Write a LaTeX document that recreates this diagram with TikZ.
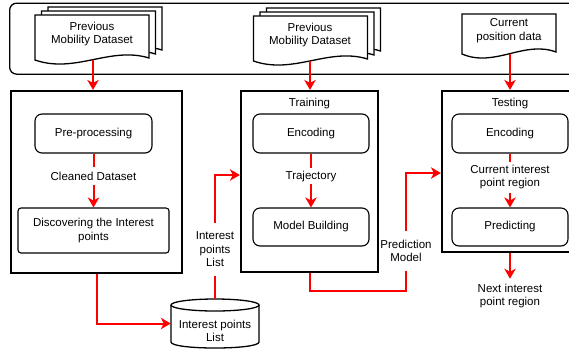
\documentclass[tikz,border=0pt]{standalone}
\usepackage{fontspec}
\setmainfont{Liberation Sans}
\usetikzlibrary{arrows.meta,calc}

% A document sheet with a wavy lower edge: top-left x, top-left y, width, height
\newcommand\docsheet[4]{%
  \draw[sheet] (#1,#2) -- ({#1+#3},#2) -- ({#1+#3},{#2+#4-1})
    .. controls ({#1+0.66*#3},{#2+#4-13}) and ({#1+0.35*#3},{#2+#4+15})
    .. (#1,{#2+#4+1}) -- cycle;}

\begin{document}
\begin{tikzpicture}[x=1pt,y=-1pt,
  txt/.style={font=\fontsize{11.5}{13.5}\selectfont, align=center, inner sep=1pt},
  sheet/.style={draw=black, fill=white, line width=1.3pt, line join=miter},
  bigframe/.style={draw=black, line width=2.2pt, inner sep=0pt},
  stepbox/.style={txt, draw=black, line width=1.1pt, rounded corners=7pt,
                  minimum width=116pt, minimum height=39pt},
  flow/.style={draw=red, line width=2pt,
               -{Stealth[length=10pt,width=11.5pt,inset=3pt]}},
  flowlabel/.style={txt, fill=white}
]
\useasboundingbox (0,0) rectangle (569,349);
\clip (0,0) rectangle (569,349);

% input band
\node[draw=black, line width=1.3pt, rounded corners=7pt, minimum width=580pt,
      minimum height=71pt, anchor=north west] (inputs) at (9,2.5) {};

% previous mobility dataset (training input)
\docsheet{48}{7}{114}{44}
\docsheet{41.5}{11}{114}{44}
\docsheet{35}{15}{114}{44}
\node[txt] (doc1) at (92,34) {Previous\\Mobility Dataset};
\coordinate (doc1out) at (93,60);

% previous mobility dataset (model input)
\docsheet{266.5}{8}{114}{44}
\docsheet{260}{12}{114}{44}
\docsheet{253.5}{16}{114}{44}
\node[txt] (doc2) at (310,35) {Previous\\Mobility Dataset};
\coordinate (doc2out) at (310,61);

% current position
\docsheet{462}{14}{94}{39}
\node[txt] (doc3) at (509,30.5) {Current\\position data};
\coordinate (doc3out) at (510,54);

% processing stages
\node[bigframe, minimum width=171pt, minimum height=182pt] (prep) at (96.5,182) {};
\node[bigframe, minimum width=137pt, minimum height=181pt] (train) at (309.5,181.5) {};
\node[bigframe, minimum width=136pt, minimum height=161pt] (test) at (510,171.5) {};

\node[txt] (trainlbl) at (309.5,104) {Training};
\node[txt] (testlbl) at (510,104) {Testing};

\node[stepbox, minimum width=117pt] (pre) at (93.5,133.5) {Pre-processing};
\node[stepbox, rounded corners=3pt, minimum width=151pt, minimum height=45pt]
     (disc) at (93.5,230.5) {Discovering the Interest\\points};
\node[stepbox] (enc1) at (311,133.5) {Encoding};
\node[stepbox, minimum height=38pt] (mb) at (311,227) {Model Building};
\node[stepbox] (enc2) at (510,133.5) {Encoding};
\node[stepbox, minimum height=38pt] (pred) at (510,227) {Predicting};

% interest points store
\node[inner sep=0pt, minimum width=88pt, minimum height=49pt] (store) at (215,323.5) {};
\draw[sheet] (171,305) -- (171,342) .. controls (171,350) and (259,350) .. (259,342) -- (259,305);
\draw[sheet] (215,305) ellipse [x radius=44, y radius=6];
\node[txt] (storetxt) at (215,331) {Interest points\\List};

% result
\node[txt, inner ysep=5pt] (next) at (510,296) {Next interest\\point region};

% connectors
\draw[flow] (doc1out) -- (doc1out |- prep.north);
\draw[flow] (doc2out) -- (doc2out |- train.north);
\draw[flow] (doc3out) -- (doc3out |- test.north);

\draw[flow] (pre) -- node[flowlabel, pos=0.42, inner ysep=5pt] {Cleaned Dataset} (disc);
\draw[flow] (enc1) -- node[flowlabel, pos=0.42, inner ysep=2.5pt] {Trajectory} (mb);
\draw[flow] (enc2) -- node[flowlabel, pos=0.44, inner ysep=3.5pt] {Current interest\\point region} (pred);

\draw[flow] (prep.south) |- (store.west);

\coordinate (trin) at ($(train.west)+(0,-6.5)$);
\draw[flow] (store.north) -- node[flowlabel, pos=0.40, inner ysep=9pt] {Interest\\points\\List}
      (store.north |- trin) -- (trin);

\coordinate (tein) at ($(test.west)+(0,1.5)$);
\coordinate (pmturn) at (406,291);
\draw[flow] (train.south) |- (pmturn)
      -- node[flowlabel, pos=0.34, inner ysep=9pt] {Prediction\\Model} (pmturn |- tein) -- (tein);

\draw[flow] (test.south) -- (next.north);
\end{tikzpicture}
\end{document}
